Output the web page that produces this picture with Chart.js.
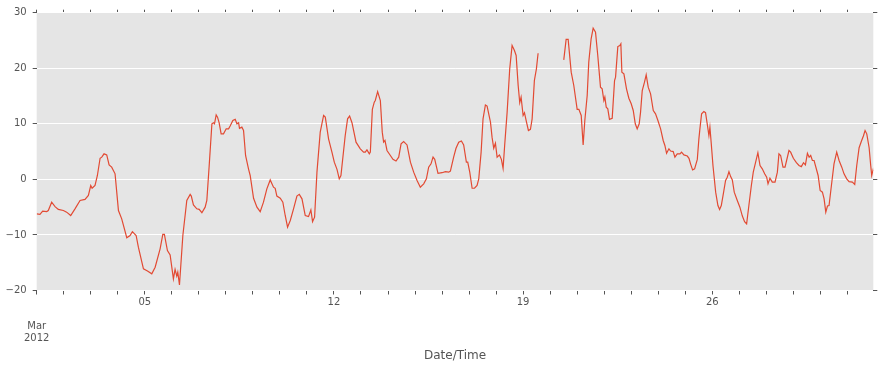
<!DOCTYPE html>
<html>
<head>
<meta charset="utf-8">
<script src="https://cdn.jsdelivr.net/npm/chart.js@4.4.1/dist/chart.umd.min.js"></script>
<style>
  body { margin: 0; background: #fff; }
  canvas { display: block; }
</style>
</head>
<body>
<canvas id="myChart" width="880" height="369"></canvas>
<script>
// hours since 2012-03-01 00:00 (null = gap in the record)
const hours = [
  0, 2.9, 5.3, 8.9, 10.3, 13.3, 16.3, 19.2, 23.7, 26.6, 30.2, 34.0, 38.5, 42.9, 45.9, 48.0, 49.2, 51.8, 53.9,
  56.3, 57.8, 59.8, 62.2, 64.3, 66.6, 69.6, 72.6, 75.5, 80.0, 82.9, 85.0, 88.3, 90.3, 94.8, 98.4, 102.2, 105.2,
  109.6, 112.0, 113.4, 116.1, 118.5, 121.4, 122.9, 124.4, 125.3, 126.8, 129.8, 131.8, 133.3, 136.3, 137.3,
  139.2, 142.2, 144.3, 146.7, 149.6, 151.1, 153.2, 155.6, 157.0, 157.9, 159.4, 160.6, 162.0, 163.8, 165.9,
  168.3, 170.4, 171.8, 174.2, 176.3, 177.8, 179.3, 180.1, 182.2, 183.7, 185.5, 188.1, 189.6, 192.6, 195.6,
  198.5, 201.4, 204.4, 207.4, 210.3, 211.8, 213.3, 216.3, 218.6, 220.7, 222.8, 225.2, 228.1, 231.1, 233.2,
  235.6, 238.5, 241.4, 243.5, 245.0, 246.8, 248.9, 251.8, 254.8, 256.3, 259.2, 262.2, 264.3, 266.7, 268.7,
  270.2, 274.0, 276.1, 277.9, 280.0, 283.6, 287.4, 290.3, 291.8, 293.3, 295.4, 296.3, 298.1, 299.8, 300.7,
  302.8, 305.2, 306.9, 308.1, 309.3, 311.1, 314.1, 316.4, 319.1, 321.5, 323.6, 325.9, 328.9, 331.9, 334.8,
  337.8, 340.7, 343.7, 346.1, 348.1, 350.2, 352.0, 353.5, 356.4, 360.0, 363.0, 365.9, 367.4, 370.3, 372.4,
  374.8, 377.2, 379.2, 381.6, 382.8, 384.6, 386.7, 388.8, 391.1, 392.6, 394.7, 396.4, 398.5, 400.0, 403.0,
  404.4, 405.9, 407.4, 408.9, 411.0, 412.7, 414.2, 415.6, 417.8, 420.1, 422.2, 424.3, 425.8, 427.6, 429.0,
  430.2, 432.0, 433.2, 435.0, 436.7, 438.5, 440.0, 442.0, 443.8, 445.3, 456, 468.1, 470.2, 472.0, 474.7,
  477.0, 480.0, 481.5, 483.6, 485.3, 486.8, 488.9, 490.3, 492.4, 494.2, 496.3, 498.3, 500.7, 502.2, 503.7,
  504.6, 505.8, 507.2, 508.7, 511.1, 513.2, 514.1, 516.1, 517.9, 518.8, 519.7, 521.5, 523.8, 525.9, 528.0,
  529.8, 531.6, 533.3, 535.1, 536.3, 537.8, 539.8, 541.3, 543.1, 545.2, 547.6, 549.6, 551.7, 554.1, 556.4,
  557.9, 559.4, 561.5, 563.0, 565.3, 566.8, 568.9, 571.3, 572.7, 574.8, 577.8, 579.3, 580.7, 582.5, 584.3,
  586.7, 588.1, 589.0, 590.5, 592.5, 594.0, 595.5, 597.0, 597.9, 599.1, 600.6, 603.0, 605.0, 606.5, 608.0,
  609.8, 611.8, 613.3, 614.8, 616.3, 617.8, 619.5, 622.2, 624.5, 626.7, 628.7, 630.5, 632.5, 634.7, 636.4,
  638.5, 640.5, 642.4, 644.4, 646.5, 648.3, 649.5, 651.2, 653.3, 655.7, 657.8, 659.2, 660.7, 662.8, 664.6,
  666.0, 668.1, 669.6, 672.0, 674.7, 677.0, 679.1, 681.0, 682.7, 684.5, 686.0, 687.4, 688.9, 690.4, 692.8,
  694.0, 695.8, 697.8, 699.3, 700.8, 702.3, 703.7, 705.8, 708.1, 710.5, 712.6, 715.0, 717.0, 719.4, 721.5,
  724.4, 726.5, 728.3, 730.4, 732.5, 734.2, 735.7, 737.2, 739.3, 740.7, 741.6, 742.8, 743
];
const temps = [
  -6.2, -6.3, -5.7, -5.8, -5.6, -4.1, -4.9, -5.4, -5.6, -5.9, -6.5, -5.3, -3.8, -3.6, -2.9, -1.1, -1.6, -1.1, 0.7,
  3.8, 4.0, 4.6, 4.4, 2.6, 2.2, 1.0, -5.6, -7.1, -10.5, -10.1, -9.4, -10.1, -12.2, -16.1, -16.5, -17.0, -15.8,
  -12.5, -9.9, -9.9, -12.8, -13.6, -17.9, -16.2, -17.4, -16.7, -19.0, -10.1, -6.5, -3.8, -2.7, -3.0,
  -4.6, -5.3, -5.4, -6.0, -5.0, -3.8, 2.5, 10.0, 10.2, 10.0, 11.6, 11.2, 10.2, 8.2, 8.2,
  9.1, 9.1, 9.6, 10.6, 10.8, 10.0, 10.2, 9.2, 9.4, 8.8, 4.3, 1.9, 0.7, -3.4, -5.0,
  -5.8, -4.1, -1.7, -0.1, -1.4, -1.6, -3.0, -3.4, -4.1, -6.5, -8.6, -7.4, -5.3, -3.0, -2.7,
  -3.5, -6.5, -6.7, -5.5, -7.6, -6.8, 1.3, 8.5, 11.5, 11.2, 7.3, 4.9, 3.1, 1.8, 0.1,
  0.7, 7.9, 10.9, 11.4, 10.2, 6.7, 5.5, 4.9, 4.9, 5.3, 4.6, 4.9, 12.6, 13.9, 14.2,
  15.8, 14.2, 8.5, 6.7, 7.0, 5.2, 4.3, 3.6, 3.3, 4.0, 6.4, 6.8, 6.2, 3.1, 1.3,
  -0.2, -1.4, -0.8, 0.1, 2.2, 2.8, 4.0, 3.6, 1.1, 1.2, 1.4, 1.3, 1.5, 4.0, 5.6,
  6.7, 6.9, 6.2, 3.1, 3.1, 1.3, -1.6, -1.6, -1.1, 0.1, 4.9, 10.9, 13.4, 13.2, 10.3,
  7.6, 5.6, 6.5, 4.0, 4.4, 3.6, 2.0, 6.1, 12.1, 19.9, 24.1, 23.2, 22.3, 16.9, 13.8,
  14.8, 11.5, 12.0, 10.3, 8.8, 9.0, 10.9, 17.8, 19.9, 22.7, null, 21.5, 25.2, 25.2, 19.3,
  16.9, 12.6, 12.6, 11.5, 6.2, 10.6, 15.1, 21.1, 25.3, 27.2, 26.5, 22.3, 16.6, 16.3, 14.2,
  14.8, 13.0, 12.7, 10.8, 11.0, 17.8, 18.4, 23.9, 24.1, 24.4, 19.3, 19.0, 16.3, 14.6, 13.6,
  12.4, 10.0, 9.1, 10.0, 12.1, 16.0, 17.5, 18.8, 16.6, 15.4, 12.4, 11.8, 10.6, 9.1, 7.0,
  6.1, 4.7, 5.5, 5.1, 5.0, 4.0, 4.6, 4.6, 4.9, 4.4, 4.2, 3.8, 2.8, 1.7, 1.9,
  3.6, 7.3, 9.1, 11.8, 12.2, 12.0, 10.0, 7.9, 9.4, 6.4, 2.5, -2.3, -4.7, -5.4, -4.7,
  -2.6, -0.2, 0.4, 1.4, 0.5, -0.1, -2.3, -3.8, -5.0, -6.6, -7.6, -8.0, -4.7, -1.1, 1.3,
  3.1, 4.8, 2.5, 1.9, 1.0, 0.4, -0.8, 0.2, -0.5, -0.5, 1.3, 4.6, 4.3, 2.2, 2.2,
  3.4, 5.2, 4.9, 3.8, 3.0, 2.5, 2.3, 3.0, 2.6, 4.7, 4.0, 4.3, 3.4, 3.4, 1.6,
  0.7, -2.0, -2.3, -3.5, -5.9, -4.8, -4.7, -1.1, 2.8, 4.9, 3.4, 2.2, 1.0, 0.1, -0.4,
  -0.5, -0.9, 2.5, 5.7, 6.9, 7.8, 8.8, 8.2, 5.7, 2.5, 0.7, 1.7, 1.5
];

// x tick labels, keyed by day offset from Mar 1
const dayLabels = { 0: ['', '', 'Mar', '2012'], 4: '05', 11: '12', 18: '19', 25: '26' };
const yTicks = [-20, -10, 0, 10, 20, 30];

const lastHour = 743;
const tickGrey = '#555555';

const points = hours.map((h, i) => ({ x: h, y: temps[i] }));

// one tick per day
function dailyTicks(scale) {
  const t = [];
  for (let d = 0; d * 24 <= lastHour; d++) t.push({ value: d * 24 });
  scale.ticks = t;
}

// grey panel behind the plot
const panelBg = {
  id: 'panelBg',
  beforeDraw(chart) {
    const { ctx, chartArea: a } = chart;
    ctx.save();
    ctx.fillStyle = '#E5E5E5';
    ctx.fillRect(a.left, a.top, a.right - a.left, a.bottom - a.top);
    ctx.restore();
  }
};

const ctx = document.getElementById('myChart').getContext('2d');
const myChart = new Chart(ctx, {
  type: 'line',
  data: {
    datasets: [{
      data: points,
      borderColor: '#E24A33',
      borderWidth: 1.2,
      pointRadius: 0,
      tension: 0,
      spanGaps: false
    }]
  },
  options: {
    responsive: false,
    animation: false,
    devicePixelRatio: 1,
    layout: { padding: 0 },
    plugins: { legend: { display: false }, tooltip: { enabled: false } },
    scales: {
      x: {
        type: 'linear',
        position: 'bottom',
        min: 0,
        max: lastHour,
        afterBuildTicks: dailyTicks,
        afterFit: s => { s.height = 78.5; },
        border: { display: false },
        grid: { drawOnChartArea: false, tickLength: 4, tickColor: tickGrey },
        ticks: {
          autoSkip: false,
          maxRotation: 0,
          padding: 1.5,
          color: tickGrey,
          font: { family: 'DejaVu Sans', size: 10, lineHeight: '12px' },
          callback: v => dayLabels[Math.round(v / 24)] ?? ''
        },
        title: {
          display: true,
          text: 'Date/Time',
          color: tickGrey,
          font: { family: 'DejaVu Sans', size: 12 },
          padding: { top: 0, bottom: 6 }
        }
      },
      xTop: {
        type: 'linear',
        position: 'top',
        min: 0,
        max: lastHour,
        afterBuildTicks: dailyTicks,
        afterFit: s => { s.height = 12.7; },
        border: { display: false },
        grid: { drawOnChartArea: false, tickLength: 3, tickColor: tickGrey },
        ticks: { display: false }
      },
      y: {
        min: -20,
        max: 30,
        afterBuildTicks: s => { s.ticks = yTicks.map(v => ({ value: v })); },
        afterFit: s => { s.width = 36.7; },
        border: { display: false },
        grid: { color: '#FFFFFF', lineWidth: 1, tickLength: 4, tickColor: tickGrey },
        ticks: {
          padding: 6,
          color: tickGrey,
          font: { family: 'DejaVu Sans', size: 10 },
          callback: v => String(v).replace('-', '\u2212')
        }
      },
      yRight: {
        position: 'right',
        min: -20,
        max: 30,
        afterBuildTicks: s => { s.ticks = yTicks.map(v => ({ value: v })); },
        afterFit: s => { s.width = 6.7; },
        border: { display: false },
        grid: { drawOnChartArea: false, tickLength: 4, tickColor: tickGrey },
        ticks: { display: false }
      }
    }
  },
  plugins: [panelBg]
});
</script>
</body>
</html>
